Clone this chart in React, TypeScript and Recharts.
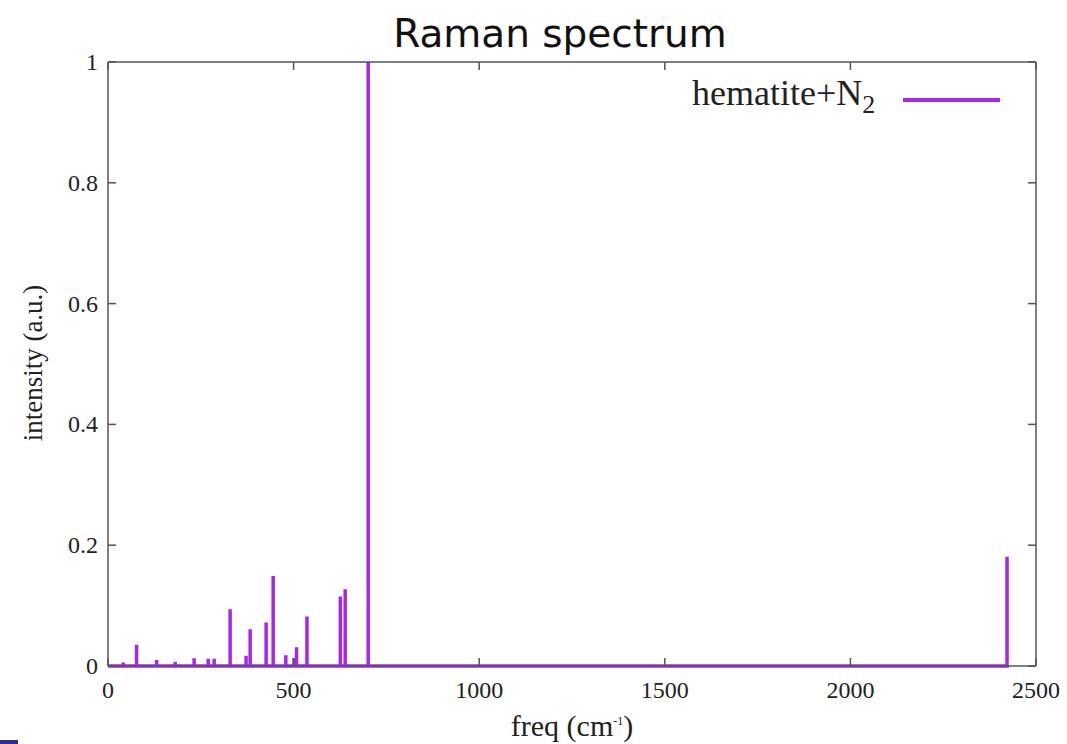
import { LineChart, Line, XAxis, YAxis } from "recharts";

// peak positions (cm^-1) and relative intensities
const peakFreqs = [41, 77, 131, 181, 232, 270, 286, 329, 372, 383, 426, 445, 479, 501, 508, 536, 626, 639, 701, 2422];
const peakHeights = [0.006, 0.035, 0.01, 0.007, 0.013, 0.012, 0.012, 0.094, 0.017, 0.061, 0.072, 0.149, 0.018, 0.013, 0.031, 0.082, 0.115, 0.127, 1.0, 0.181];
const xTicks = [0, 500, 1000, 1500, 2000, 2500];
const yTicks = [0, 0.2, 0.4, 0.6, 0.8, 1];

const PURPLE = "#a626ee";
const AXIS = "#555";
const SERIF = "'Liberation Serif', 'DejaVu Serif', serif";
const TICK_LEN = 8;

// stick spectrum: each peak is a vertical line from the baseline and back
const data: { f: number; y: number }[] = [{ f: 0, y: 0 }];
peakFreqs.forEach((f, i) => {
  data.push({ f, y: 0 }, { f, y: peakHeights[i] }, { f, y: 0 });
});

// gnuplot-style ticks point into the plot, so the tick marks are drawn with the labels
const BottomTick = (p: any) => {
  const axisY = p.y - 22;
  return (
    <g>
      <line x1={p.x} y1={axisY} x2={p.x} y2={axisY - TICK_LEN} stroke={AXIS} strokeWidth={1.5} />
      <text x={p.x} y={p.y + 10} textAnchor="middle" fill="#222" fontSize={24} fontFamily={SERIF}>
        {p.payload.value}
      </text>
    </g>
  );
};

const LeftTick = (p: any) => {
  const axisX = p.x + 10;
  return (
    <g>
      <line x1={axisX} y1={p.y} x2={axisX + TICK_LEN} y2={p.y} stroke={AXIS} strokeWidth={1.5} />
      <text x={p.x} y={p.y + 8} textAnchor="end" fill="#222" fontSize={24} fontFamily={SERIF}>
        {p.payload.value}
      </text>
    </g>
  );
};

const TopTick = (p: any) => (
  <line x1={p.x} y1={p.y} x2={p.x} y2={p.y + TICK_LEN} stroke={AXIS} strokeWidth={1.5} />
);

const RightTick = (p: any) => (
  <line x1={p.x} y1={p.y} x2={p.x - TICK_LEN} y2={p.y} stroke={AXIS} strokeWidth={1.5} />
);

export default function App() {
  return (
    <div style={{ position: "absolute", left: 0, top: 0, width: 1067, height: 744, background: "#fff" }}>
      <div
        style={{
          position: "absolute",
          left: 0,
          width: 1120,
          top: 9,
          textAlign: "center",
          fontFamily: "'DejaVu Sans', sans-serif",
          fontSize: 39,
          color: "#111",
          lineHeight: "50px",
        }}
      >
        Raman spectrum
      </div>

      <LineChart
        width={1067}
        height={744}
        data={data}
        margin={{ top: 61, right: 30, bottom: 38, left: 48 }}
        style={{ position: "absolute", left: 0, top: 0 }}
      >
        <XAxis
          dataKey="f"
          type="number"
          domain={[0, 2500]}
          ticks={xTicks}
          allowDataOverflow
          height={40}
          stroke={AXIS}
          strokeWidth={1.5}
          tickLine={false}
          tickSize={0}
          tickMargin={22}
          tick={BottomTick}
          label={{
            content: () => (
              <text x={572} y={736} textAnchor="middle" fill="#222" fontSize={30} fontFamily={SERIF}>
                freq (cm
                <tspan fontSize={12} dy={-11}>-1</tspan>
                <tspan dy={11}>)</tspan>
              </text>
            ),
          }}
        />
        <XAxis
          xAxisId="top"
          orientation="top"
          dataKey="f"
          type="number"
          domain={[0, 2500]}
          ticks={xTicks}
          height={1}
          stroke={AXIS}
          strokeWidth={1.5}
          tickLine={false}
          tickSize={0}
          tickMargin={0}
          tick={TopTick}
        />
        <YAxis
          type="number"
          domain={[0, 1]}
          ticks={yTicks}
          width={60}
          stroke={AXIS}
          strokeWidth={1.5}
          tickLine={false}
          tickSize={0}
          tickMargin={10}
          tick={LeftTick}
          label={{
            content: () => (
              <text
                x={0}
                y={0}
                transform="translate(42 363) rotate(-90)"
                textAnchor="middle"
                fill="#222"
                fontSize={27}
                fontFamily={SERIF}
              >
                intensity (a.u.)
              </text>
            ),
          }}
        />
        <YAxis
          yAxisId="right"
          orientation="right"
          type="number"
          domain={[0, 1]}
          ticks={yTicks}
          width={1}
          stroke={AXIS}
          strokeWidth={1.5}
          tickLine={false}
          tickSize={0}
          tickMargin={0}
          tick={RightTick}
        />
        <Line
          type="linear"
          dataKey="y"
          stroke={PURPLE}
          strokeWidth={3.5}
          dot={false}
          isAnimationActive={false}
        />
        <Line
          xAxisId="top"
          yAxisId="right"
          dataKey="y"
          stroke="none"
          dot={false}
          legendType="none"
          isAnimationActive={false}
        />
      </LineChart>

      <div
        style={{
          position: "absolute",
          top: 72,
          left: 692,
          display: "flex",
          alignItems: "center",
          fontFamily: SERIF,
          fontSize: 36,
          color: "#222",
        }}
      >
        <span>
          hematite+N<sub style={{ fontSize: 26, verticalAlign: -8 }}>2</sub>
        </span>
        <span
          style={{
            display: "inline-block",
            width: 97,
            height: 4,
            background: PURPLE,
            marginLeft: 28,
            position: "relative",
            top: 4,
          }}
        />
      </div>

      <div style={{ position: "absolute", left: 0, top: 740, width: 18, height: 4, background: "#2b2f8a" }} />
    </div>
  );
}
